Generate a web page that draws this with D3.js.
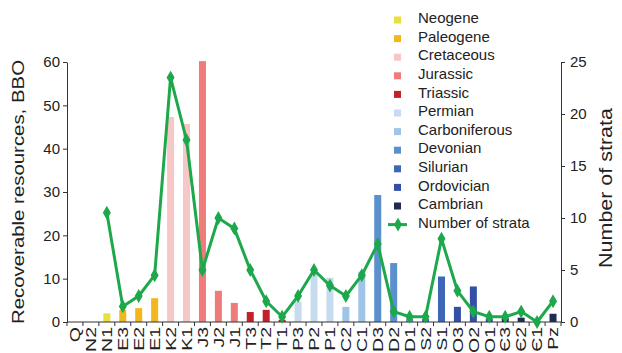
<!DOCTYPE html>
<html>
<head>
<meta charset="utf-8">
<script src="https://cdn.jsdelivr.net/npm/d3@7"></script>
<style>
  body { margin: 0; background: #fff; }
  svg { font-family: "Liberation Sans", Arial, sans-serif; }
</style>
</head>
<body>
<svg id="chart" width="622" height="353"></svg>
<script>
// categories (strata) along the x axis
const strata = ['Q','N2','N1','E3','E2','E1','K2','K1','J3','J2','J1','T3','T2','T1',
    'P3','P2','P1','C2','C1','D3','D2','D1','S2','S1','O3','O2','O1','Є3','Є2','Є1','Pz'];

// period each stratum belongs to (drives bar colour)
const strataPeriod = [null,'Neogene','Neogene','Paleogene','Paleogene','Paleogene',
    'Cretaceous','Cretaceous','Jurassic','Jurassic','Jurassic','Triassic','Triassic','Triassic',
    'Permian','Permian','Permian','Carboniferous','Carboniferous','Devonian','Devonian','Devonian',
    'Silurian','Silurian','Ordovician','Ordovician','Ordovician','Cambrian','Cambrian','Cambrian','Cambrian'];

// recoverable resources, BBO (left axis)
const resources = [0, 0, 2.0, 2.8, 3.2, 5.5, 47.3, 45.7, 60.2, 7.2, 4.4, 2.3, 2.8, 0.5,
    4.7, 11.5, 10.2, 3.5, 11.6, 29.3, 13.6, 0.8, 0.7, 10.5, 3.5, 8.2, 0.8, 0.9, 1.0, 0, 1.9];

// number of strata (right axis)
const strataCount = [null, null, 10.5, 1.5, 2.5, 4.5, 23.5, 17.5, 5, 10, 9, 5, 2, 0.5,
    2.5, 5, 3.5, 2.5, 4.5, 7.5, 1, 0.5, 0.5, 8, 3, 1, 0.5, 0.5, 1, 0, 2];

const periods = ['Neogene','Paleogene','Cretaceous','Jurassic','Triassic','Permian',
    'Carboniferous','Devonian','Silurian','Ordovician','Cambrian'];
const periodColors = ['#e8e03e','#f2b71f','#f7c7c7','#ef7b7b','#c2212a','#c6dbef',
    '#9fc4e8','#5a90cc','#3d67b7','#3450a6','#1e2b52'];
const lineColor = '#1da84b';

const svg = d3.select('#chart');
const margin = { top: 62, right: 61, bottom: 31, left: 67 };
const width = 622 - margin.left - margin.right;
const height = 353 - margin.top - margin.bottom;

const g = svg.append('g').attr('transform', `translate(${margin.left},${margin.top})`);

const x = d3.scaleBand().domain(strata).range([0, width]);
const yLeft = d3.scaleLinear().domain([0, 60]).range([height, 0]);
const yRight = d3.scaleLinear().domain([0, 25]).range([height, 0]);
const color = d3.scaleOrdinal().domain(periods).range(periodColors);

const data = strata.map((s, i) => ({
    name: s,
    period: strataPeriod[i],
    value: resources[i],
    count: strataCount[i]
}));

// bars
const barW = x.bandwidth() * 0.44;
g.selectAll('rect.bar')
    .data(data.filter(d => d.period && d.value > 0))
    .enter()
    .append('rect')
    .attr('class', 'bar')
    .attr('x', d => x(d.name) + (x.bandwidth() - barW) / 2)
    .attr('y', d => yLeft(d.value))
    .attr('width', barW)
    .attr('height', d => height - yLeft(d.value))
    .attr('fill', d => color(d.period));

// left axis
const leftAxis = g.append('g')
    .call(d3.axisLeft(yLeft).tickValues(d3.range(0, 61, 10)).tickSizeInner(4).tickSizeOuter(0).tickPadding(3));
// right axis
const rightAxis = g.append('g')
    .attr('transform', `translate(${width},0)`)
    .call(d3.axisRight(yRight).tickValues(d3.range(0, 26, 5)).tickSizeInner(4).tickSizeOuter(0).tickPadding(5));

[leftAxis, rightAxis].forEach(a => {
    a.selectAll('path, line').attr('stroke', '#333');
    a.selectAll('text').attr('font-size', 15).attr('fill', '#222');
});

// bottom axis: baseline, ticks at band boundaries, rotated labels
const bottom = g.append('g').attr('transform', `translate(0,${height})`);
bottom.append('line')
    .attr('x1', 0).attr('x2', width)
    .attr('stroke', '#333');
bottom.selectAll('line.tick')
    .data(strata.concat(['end']))
    .enter()
    .append('line')
    .attr('class', 'tick')
    .attr('x1', d => d === 'end' ? width : x(d))
    .attr('x2', d => d === 'end' ? width : x(d))
    .attr('y1', 0).attr('y2', 4)
    .attr('stroke', '#333');
// labels are stretched along their length like in the source figure
bottom.selectAll('text')
    .data(strata)
    .enter()
    .append('text')
    .attr('transform', d => `translate(${x(d) + x.bandwidth() / 2},5) rotate(-90) scale(1.3,1)`)
    .attr('text-anchor', 'end')
    .attr('dy', '0.35em')
    .attr('font-size', 15)
    .attr('fill', '#222')
    .text(d => d);

// strata count line
const line = d3.line()
    .defined(d => d.count !== null)
    .x(d => x(d.name) + x.bandwidth() / 2)
    .y(d => yRight(d.count));

g.append('path')
    .datum(data)
    .attr('fill', 'none')
    .attr('stroke', lineColor)
    .attr('stroke-width', 3)
    .attr('stroke-linejoin', 'round')
    .attr('d', line);

const marker = d3.symbol().type(d3.symbolDiamond).size(34);
g.selectAll('path.pt')
    .data(data.filter(d => d.count !== null))
    .enter()
    .append('path')
    .attr('class', 'pt')
    .attr('transform', d => `translate(${x(d.name) + x.bandwidth() / 2},${yRight(d.count)})`)
    .attr('d', marker)
    .attr('fill', lineColor)
    .attr('stroke', lineColor)
    .attr('stroke-width', 1.5);

// axis titles
svg.append('text')
    .attr('transform', `translate(24,192) rotate(-90) scale(1.2,1)`)
    .attr('text-anchor', 'middle')
    .attr('font-size', 17)
    .attr('fill', '#222')
    .text('Recoverable resources, BBO');

svg.append('text')
    .attr('transform', `translate(612,188) rotate(-90) scale(1.13,1)`)
    .attr('text-anchor', 'middle')
    .attr('font-size', 19)
    .attr('fill', '#222')
    .text('Number of strata');

// legend
const legend = svg.append('g').attr('transform', 'translate(394,20)');
const rowH = 18.6;
periods.forEach((p, i) => {
    const row = legend.append('g').attr('transform', `translate(0,${i * rowH})`);
    row.append('rect')
        .attr('x', 0).attr('y', -3.5)
        .attr('width', 7).attr('height', 7)
        .attr('fill', color(p));
    row.append('text')
        .attr('x', 24).attr('y', -2)
        .attr('dy', '0.35em')
        .attr('font-size', 15)
        .attr('fill', '#222')
        .text(p);
});
const lineRow = legend.append('g').attr('transform', `translate(0,${periods.length * rowH})`);
lineRow.append('line')
    .attr('x1', -6).attr('x2', 13)
    .attr('stroke', lineColor).attr('stroke-width', 3);
lineRow.append('path')
    .attr('transform', 'translate(4,0)')
    .attr('d', marker)
    .attr('fill', lineColor)
    .attr('stroke', lineColor)
    .attr('stroke-width', 1.5);
lineRow.append('text')
    .attr('x', 24).attr('y', -2)
    .attr('dy', '0.35em')
    .attr('font-size', 15)
    .attr('fill', '#222')
    .text('Number of strata');
</script>
</body>
</html>
